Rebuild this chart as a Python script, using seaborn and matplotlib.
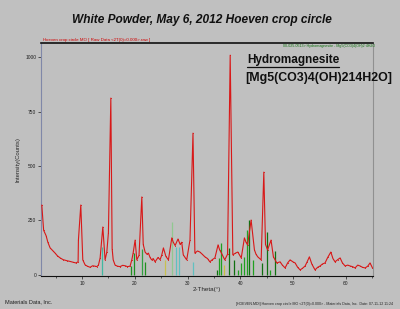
import matplotlib
matplotlib.use("Agg")
import matplotlib.pyplot as plt
from matplotlib.lines import Line2D
import seaborn as sns
import pandas as pd

# ---- data ----
two_theta = [2.35, 2.7, 3.17, 3.5, 3.93, 4.4, 4.88, 5.3, 5.83, 6.4, 7.15, 7.7, 8.3, 8.8, 9.24, 9.3, 9.75,
             10.13, 10.57, 11.0, 11.52, 12.0, 12.47, 12.8, 13.1, 13.42, 13.93, 14.36, 14.69, 14.99, 15.45,
             15.7, 15.9, 16.26, 16.7, 17.2, 17.7, 18.16, 18.6, 19.1, 19.43, 19.68, 20.06, 20.38, 20.8,
             21.33, 21.6, 21.95, 22.3, 22.58, 22.9, 23.2, 23.5, 23.85, 24.4, 24.8, 25.1, 25.43, 25.9,
             26.38, 27.02, 27.3, 27.65, 28.2, 28.6, 28.9, 29.2, 29.85, 30.47, 31.04, 31.4, 31.9, 32.35,
             32.8, 33.3, 33.8, 34.24, 34.7, 35.2, 35.8, 36.1, 36.45, 37.07, 37.6, 38.1, 38.6, 39.1, 39.55,
             40.2, 40.8, 41.1, 41.4, 42.07, 42.7, 43.0, 43.33, 43.98, 44.48, 44.8, 45.2, 45.85, 46.3,
             46.94, 47.57, 48.0, 48.52, 49.0, 49.47, 50.0, 50.42, 50.9, 51.37, 51.8, 52.32, 52.7, 53.13,
             53.59, 54.2, 54.7, 55.16, 55.6, 56.1, 56.6, 57.2, 57.6, 58.0, 58.5, 58.96, 59.4, 59.9, 60.4,
             60.85, 61.3, 61.8, 62.3, 62.75, 63.2, 63.7, 64.2, 64.64, 65.1]
intensity = [321, 205, 180, 150, 124, 112, 100, 88, 78, 70, 65, 62, 58, 55, 60, 160, 321,
             69, 46, 40, 35, 42, 40, 38, 45, 78, 220, 69, 105, 193, 812,
             120, 69, 45, 40, 38, 44, 42, 38, 40, 69, 100, 160, 69, 90,
             358, 140, 105, 95, 100, 80, 69, 75, 60, 80, 70, 90, 124, 85,
             69, 170, 150, 135, 165, 140, 150, 92, 69, 160, 651, 100, 110, 105,
             95, 83, 75, 60, 70, 78, 138, 115, 100, 69, 95, 1009, 92, 100, 105,
             78, 170, 150, 138, 252, 115, 95, 83, 69, 472, 140, 115, 160, 83,
             55, 60, 45, 32, 55, 69, 60, 55, 35, 23, 30, 41, 60, 83,
             50, 23, 35, 41, 50, 55, 80, 105, 75, 60, 70, 78, 55, 41, 45,
             41, 38, 32, 45, 41, 35, 32, 40, 55, 32]

stick_pos = [13.85, 19.3, 19.8, 21.3, 22.0, 25.7, 27.0, 27.9, 28.4, 31.1, 35.6, 36.0, 36.4,
             36.9, 37.9, 38.8, 39.6, 40.1, 40.7, 41.3, 41.6, 42.5, 44.2, 45.1, 45.7, 46.6]
stick_int = [130, 40, 100, 120, 60, 69, 243, 130, 130, 60, 23, 78, 145,
             46, 124, 69, 23, 55, 83, 207, 252, 69, 55, 197, 23, 110]
stick_col = ['#40b8a0', '#209020', '#209020', '#30a040', '#209020', '#c8c050', '#90c890', '#60c0c0',
             '#60c0c0', '#60c0c0', '#107010', '#20a020', '#20a020', '#c8c040', '#107010', '#107010',
             '#20a020', '#20a020', '#20a020', '#20a020', '#107010', '#20a020', '#107010', '#107010',
             '#20a020', '#107010']

x_ticks = [10, 20, 30, 40, 50, 60]
y_ticks = [0, 250, 500, 750, 1000]

title = "White Powder, May 6, 2012 Hoeven crop circle"
mineral = "Hydromagnesite"
formula = "[Mg5(CO3)4(OH)214H2O]"

# ---- figure ----
sns.set_style("white")
plt.rcParams['font.family'] = ['Liberation Sans', 'DejaVu Sans']
bg = '#c0c0c0'
fig = plt.figure(figsize=(4.0, 3.09), dpi=100, facecolor=bg)
ax = fig.add_axes([41/400, 1-276/309, (373-41)/400, (276-43)/309])
ax.set_facecolor(bg)

df = pd.DataFrame({"two_theta": two_theta, "intensity": intensity})
ax.vlines(stick_pos, 0, stick_int, colors=stick_col, linewidth=0.9, zorder=2)
sns.lineplot(data=df, x="two_theta", y="intensity", ax=ax, color='#d81818',
             linewidth=0.8, zorder=3, marker='.', markersize=1.5, markeredgewidth=0)

ax.set_xlim(2.2, 65.2)
ax.set_ylim(-5, 1065)
ax.set_xticks(x_ticks)
ax.set_xticks([5, 15, 25, 35, 45, 55, 65], minor=True)
ax.set_yticks(y_ticks)
ax.set_yticklabels([str(v) for v in y_ticks])
ax.tick_params(axis='both', labelsize=3.5, length=2, width=0.5, pad=1.5, direction='out',
               colors='#202020', bottom=True, left=True)
ax.tick_params(axis='x', which='minor', length=1.5, width=0.5, bottom=True)
ax.set_xlabel("2-Theta(°)", fontsize=4.5, labelpad=1)
ax.set_ylabel("Intensity(Counts)", fontsize=4.2, labelpad=3)

for side, col, lw in [('top', '#101010', 1.2), ('bottom', '#101010', 0.8),
                      ('left', '#8088a8', 0.8), ('right', '#909090', 0.8)]:
    ax.spines[side].set_visible(True)
    ax.spines[side].set_color(col)
    ax.spines[side].set_linewidth(lw)

# header annotations
fig.text(43/400, 1-40/309, "Hoeven crop circle MO [ Raw Data <2T(0)=0.000>.raw ]",
         fontsize=3.2, color='#d00000', va='center', ha='left')
fig.text(375/400, 1-46.5/309, "00-025-0513> Hydromagnesite - Mg5(CO3)4(OH)2·4H2O",
         fontsize=2.6, color='#107010', va='center', ha='right')

fig.text(201.5/400, 1-20/309, title, fontsize=8.6, fontweight='bold', fontstyle='italic',
         ha='center', va='center', color='#101010')

t1 = fig.text(247/400, 1-60/309, mineral, fontsize=8.5, fontweight='bold',
              ha='left', va='center', color='#101010')
fig.text(245/400, 1-78/309, formula, fontsize=8.9, fontweight='bold',
         ha='left', va='center', color='#101010')

fig.text(5/400, 1-302/309, "Materials Data, Inc.", fontsize=4, ha='left', va='center', color='#202020')
fig.text(393/400, 1-304/309,
         "[HOEVEN.MDI] Hoeven crop circle MO <2T(0)=0.000> - Materials Data, Inc.  Date: 07-11-12 11:24",
         fontsize=2.6, ha='right', va='center', color='#202020')

# underline for the mineral name
fig.canvas.draw()
bb = t1.get_window_extent()
inv = fig.transFigure.inverted()
(x0, y0), (x1, y1) = inv.transform([[bb.x0, bb.y0], [bb.x1, bb.y1]])
fig.add_artist(Line2D([x0, x1], [y0 - 0.002, y0 - 0.002], transform=fig.transFigure,
                      color='#101010', linewidth=0.9))

fig.savefig("out.png", dpi=100, facecolor=bg)
